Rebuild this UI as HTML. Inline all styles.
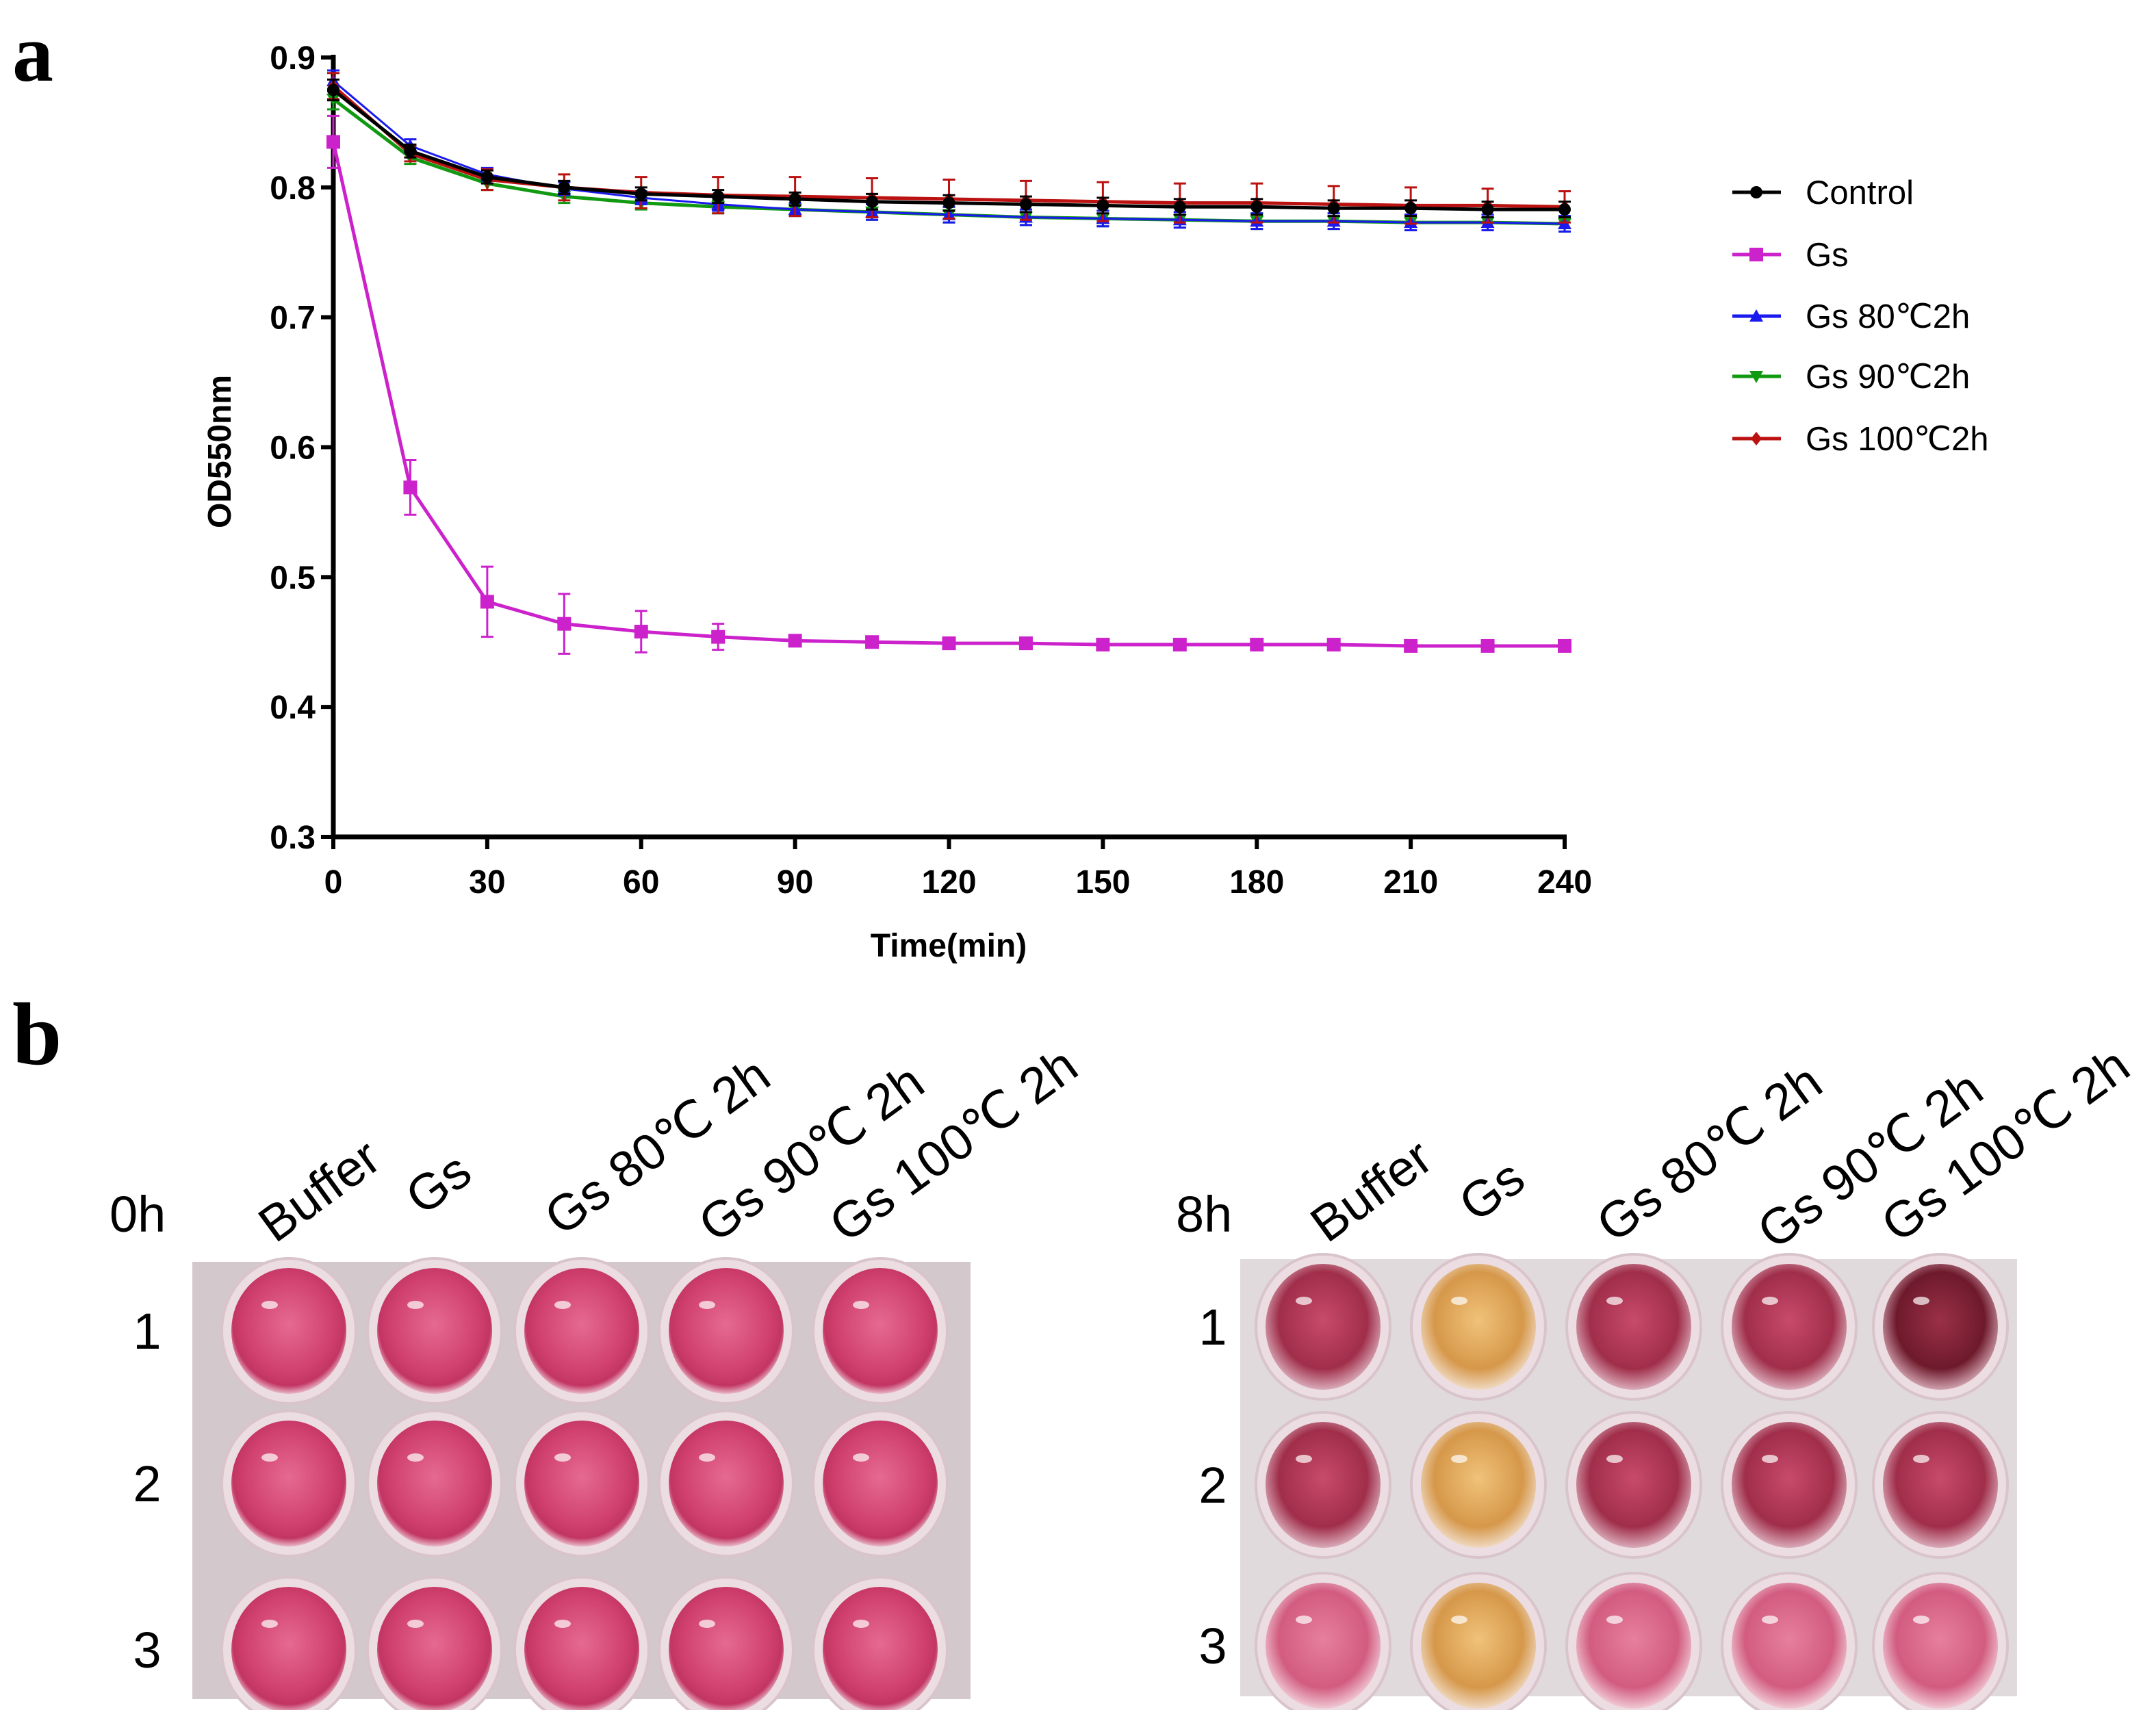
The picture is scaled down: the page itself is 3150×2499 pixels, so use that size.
<!DOCTYPE html>
<html><head><meta charset="utf-8"><style>
html,body{margin:0;padding:0;background:#fff;}
svg{display:block;font-family:"Liberation Sans",sans-serif;}
</style></head><body>
<svg id="fig" width="3150" height="2499" viewBox="0 0 3150 2499">
<defs>
<radialGradient id="wellPink" cx="50%" cy="45%" r="55%"><stop offset="0" stop-color="#e56a92"/><stop offset="0.7" stop-color="#d0406e"/><stop offset="0.88" stop-color="#c23563"/><stop offset="1" stop-color="#e8b8c8"/></radialGradient>
<radialGradient id="wellRed" cx="50%" cy="45%" r="55%"><stop offset="0" stop-color="#c84a6a"/><stop offset="0.7" stop-color="#a02e4a"/><stop offset="1" stop-color="#d9aab8"/></radialGradient>
<radialGradient id="wellDark" cx="50%" cy="45%" r="55%"><stop offset="0" stop-color="#9a3048"/><stop offset="0.7" stop-color="#6e1a2c"/><stop offset="1" stop-color="#cfa0ad"/></radialGradient>
<radialGradient id="wellLight" cx="50%" cy="45%" r="55%"><stop offset="0" stop-color="#e77f9d"/><stop offset="0.7" stop-color="#d25c80"/><stop offset="1" stop-color="#f0c8d4"/></radialGradient>
<radialGradient id="wellOrange" cx="50%" cy="45%" r="55%"><stop offset="0" stop-color="#f0c27a"/><stop offset="0.7" stop-color="#d6984a"/><stop offset="1" stop-color="#efd8c0"/></radialGradient>
</defs>
<text x="18" y="118" font-family="Liberation Serif,serif" font-weight="bold" font-size="120">a</text>
<text x="18" y="1555" font-family="Liberation Serif,serif" font-weight="bold" font-size="130">b</text>
<g id="chart"></g>
<g id="photos"></g>
</svg>
<script>
const times=[0,15,30,45,60,75,90,105,120,135,150,165,180,195,210,225,240];
const xTicks=[0,30,60,90,120,150,180,210,240];
const yTicks=[0.3,0.4,0.5,0.6,0.7,0.8,0.9];
const seriesNames=["Control","Gs","Gs 80\u21032h","Gs 90\u21032h","Gs 100\u21032h"];
const controlVals=[0.875,0.828,0.808,0.800,0.795,0.793,0.791,0.789,0.788,0.787,0.786,0.785,0.785,0.784,0.784,0.783,0.783];
const gsVals=[0.835,0.569,0.481,0.464,0.458,0.454,0.451,0.450,0.449,0.449,0.448,0.448,0.448,0.448,0.447,0.447,0.447];
const gs80Vals=[0.882,0.832,0.810,0.799,0.792,0.787,0.783,0.781,0.779,0.777,0.776,0.775,0.774,0.774,0.773,0.773,0.772];
const gs90Vals=[0.868,0.823,0.803,0.793,0.788,0.785,0.783,0.781,0.779,0.777,0.776,0.775,0.774,0.774,0.773,0.773,0.772];
const gs100Vals=[0.878,0.826,0.806,0.800,0.796,0.794,0.793,0.792,0.791,0.790,0.789,0.788,0.788,0.787,0.786,0.786,0.785];
const gsErr=[0.02,0.021,0.027,0.023,0.016,0.01,0.004,0.002,0.002,0.002,0.002,0.002,0.002,0.002,0.002,0.002,0.002];
const gs100Err=[0.01,0.006,0.008,0.01,0.012,0.014,0.015,0.015,0.015,0.015,0.015,0.015,0.015,0.014,0.014,0.013,0.012];
const otherErr=[0.008,0.005,0.005,0.005,0.005,0.005,0.005,0.006,0.006,0.006,0.006,0.006,0.006,0.006,0.006,0.006,0.006];
const NS="http://www.w3.org/2000/svg";
function mk(tag,attrs,parent){const e=document.createElementNS(NS,tag);for(const k in attrs)e.setAttribute(k,attrs[k]);parent.appendChild(e);return e;}
const X0=487,X1=2286,Y0=1223,Y1=84;
const xs=t=>X0+(t-0)/(240-0)*(X1-X0);
const ys=v=>Y0-(v-0.3)/(0.9-0.3)*(Y0-Y1);
const chart=document.getElementById('chart');
let ax=mk('line',{x1:X0,y1:Y1-4,x2:X0,y2:Y0+2,stroke:'#000','stroke-width':7},chart);


let bx=mk('line',{x1:X0-3,y1:Y0,x2:X1+3,y2:Y0,stroke:'#000','stroke-width':7},chart);


yTicks.forEach(v=>{
  mk('line',{x1:X0-18,y1:ys(v),x2:X0,y2:ys(v),stroke:'#000','stroke-width':6},chart);
  const t=mk('text',{x:X0-26,y:ys(v)+17,'text-anchor':'end','font-size':48,'font-weight':'bold'},chart);
  t.textContent=v.toFixed(1);
  
  
});
xTicks.forEach(v=>{
  mk('line',{x1:xs(v),y1:Y0,x2:xs(v),y2:Y0+18,stroke:'#000','stroke-width':6},chart);
  const t=mk('text',{x:xs(v),y:Y0+82,'text-anchor':'middle','font-size':48,'font-weight':'bold'},chart);
  t.textContent=v;
  
  
});
let xt=mk('text',{x:1386,y:1398,'text-anchor':'middle','font-size':48,'font-weight':'bold'},chart);
xt.textContent='Time(min)';


let yt=mk('text',{x:0,y:0,'text-anchor':'middle','font-size':48,'font-weight':'bold',transform:'translate(337,660) rotate(-90)'},chart);
yt.textContent='OD550nm';


function marker(g,type,x,y,c){
  if(type==='circle')mk('circle',{cx:x,cy:y,r:9,fill:c},g);
  else if(type==='square')mk('rect',{x:x-10,y:y-10,width:20,height:20,fill:c},g);
  else if(type==='tri')mk('polygon',{points:`${x},${y-10} ${x-10},${y+8} ${x+10},${y+8}`,fill:c},g);
  else if(type==='vtri')mk('polygon',{points:`${x},${y+10} ${x-10},${y-8} ${x+10},${y-8}`,fill:c},g);
  else mk('polygon',{points:`${x},${y-10} ${x+8},${y} ${x},${y+10} ${x-8},${y}`,fill:c},g);
}
const series=[
 {vals:gsVals,err:gsErr,c:'#cc22cc',m:'square',w:5,slug:'gs'},
 {vals:gs90Vals,err:otherErr,c:'#119911',m:'vtri',w:5,slug:'gs-90'},
 {vals:gs80Vals,err:otherErr,c:'#1a1aee',m:'tri',w:3,slug:'gs-80'},
 {vals:gs100Vals,err:gs100Err,c:'#bb1111',m:'diamond',w:5,slug:'gs-100'},
 {vals:controlVals,err:otherErr,c:'#000',m:'circle',w:5,slug:'control'}
];
series.forEach(s=>{
  const g=mk('g',{},chart);
  
  
  times.forEach((t,i)=>{
    const x=xs(t),yTop=ys(s.vals[i]+s.err[i]),yBot=ys(s.vals[i]-s.err[i]);
    mk('line',{x1:x,y1:yTop,x2:x,y2:yBot,stroke:s.c,'stroke-width':3},g);
    mk('line',{x1:x-9,y1:yTop,x2:x+9,y2:yTop,stroke:s.c,'stroke-width':3},g);
    mk('line',{x1:x-9,y1:yBot,x2:x+9,y2:yBot,stroke:s.c,'stroke-width':3},g);
  });
  mk('polyline',{points:times.map((t,i)=>xs(t)+','+ys(s.vals[i])).join(' '),fill:'none',stroke:s.c,'stroke-width':s.w},g);
  times.forEach((t,i)=>marker(g,s.m,xs(t),ys(s.vals[i]),s.c));
});
const legOrder=[{c:'#000',m:'circle'},{c:'#cc22cc',m:'square'},{c:'#1a1aee',m:'tri'},{c:'#119911',m:'vtri'},{c:'#bb1111',m:'diamond'}];
const legY=[281,372,462,550,641];
seriesNames.forEach((n,i)=>{
  const g=mk('g',{},chart);
  
  
  mk('line',{x1:2531,y1:legY[i],x2:2602,y2:legY[i],stroke:legOrder[i].c,'stroke-width':5},g);
  marker(g,legOrder[i].m,2566,legY[i],legOrder[i].c);
  const t=mk('text',{x:2638,y:legY[i]+17,'font-size':49},g);
  t.textContent=n;
});
const photos=document.getElementById('photos');
const colLabels=["Buffer","Gs","Gs 80\u2103 2h","Gs 90\u2103 2h","Gs 100\u2103 2h"];
function plate(px,py,pw,ph,cx,cy,fills,bg,lab,labX,colPos,rowX,slug){
  const g=mk('g',{},photos);
  
  
  mk('rect',{x:px,y:py,width:pw,height:ph,fill:bg},g);
  cy.forEach((y,r)=>cx.forEach((x,c)=>{
    mk('ellipse',{cx:x,cy:y,rx:98,ry:106,fill:'#ecdde2',stroke:'#d8c4ca','stroke-width':4},g);
    mk('ellipse',{cx:x,cy:y,rx:84,ry:92,fill:'url(#'+fills[r][c]+')'},g);
    mk('ellipse',{cx:x-28,cy:y-38,rx:12,ry:6,fill:'#fff',opacity:0.7},g);
  }));
  const t=mk('text',{x:labX,y:1800,'font-size':74},photos);t.textContent=lab;
  cy.forEach((y,r)=>{const rt=mk('text',{x:rowX,y:y+26,'font-size':74,'text-anchor':'middle'},photos);rt.textContent=r+1;});
  colLabels.forEach((n,i)=>{
    const ct=mk('text',{x:0,y:0,'font-size':74,transform:`translate(${colPos[i][0]},${colPos[i][1]}) rotate(-36)`},photos);
    ct.textContent=n;
    
    
  });
}
const P='wellPink';
plate(281,1844,1137,639,[422,635,850,1061,1286],[1945,2168,2411],
 [[P,P,P,P,P],[P,P,P,P,P],[P,P,P,P,P]],'#d3c8cb','0h',160,
 [[402,1818],[617,1778],[820,1808],[1045,1818],[1236,1818]],215,'plate-0h');
plate(1812,1840,1135,639,[1933,2160,2387,2614,2835],[1939,2170,2405],
 [['wellRed','wellOrange','wellRed','wellRed','wellDark'],['wellRed','wellOrange','wellRed','wellRed','wellRed'],['wellLight','wellOrange','wellLight','wellLight','wellLight']],'#e0dadc','8h',1718,
 [[1939,1818],[2156,1788],[2357,1818],[2592,1828],[2773,1818]],1772,'plate-8h');
</script>
</body></html>
